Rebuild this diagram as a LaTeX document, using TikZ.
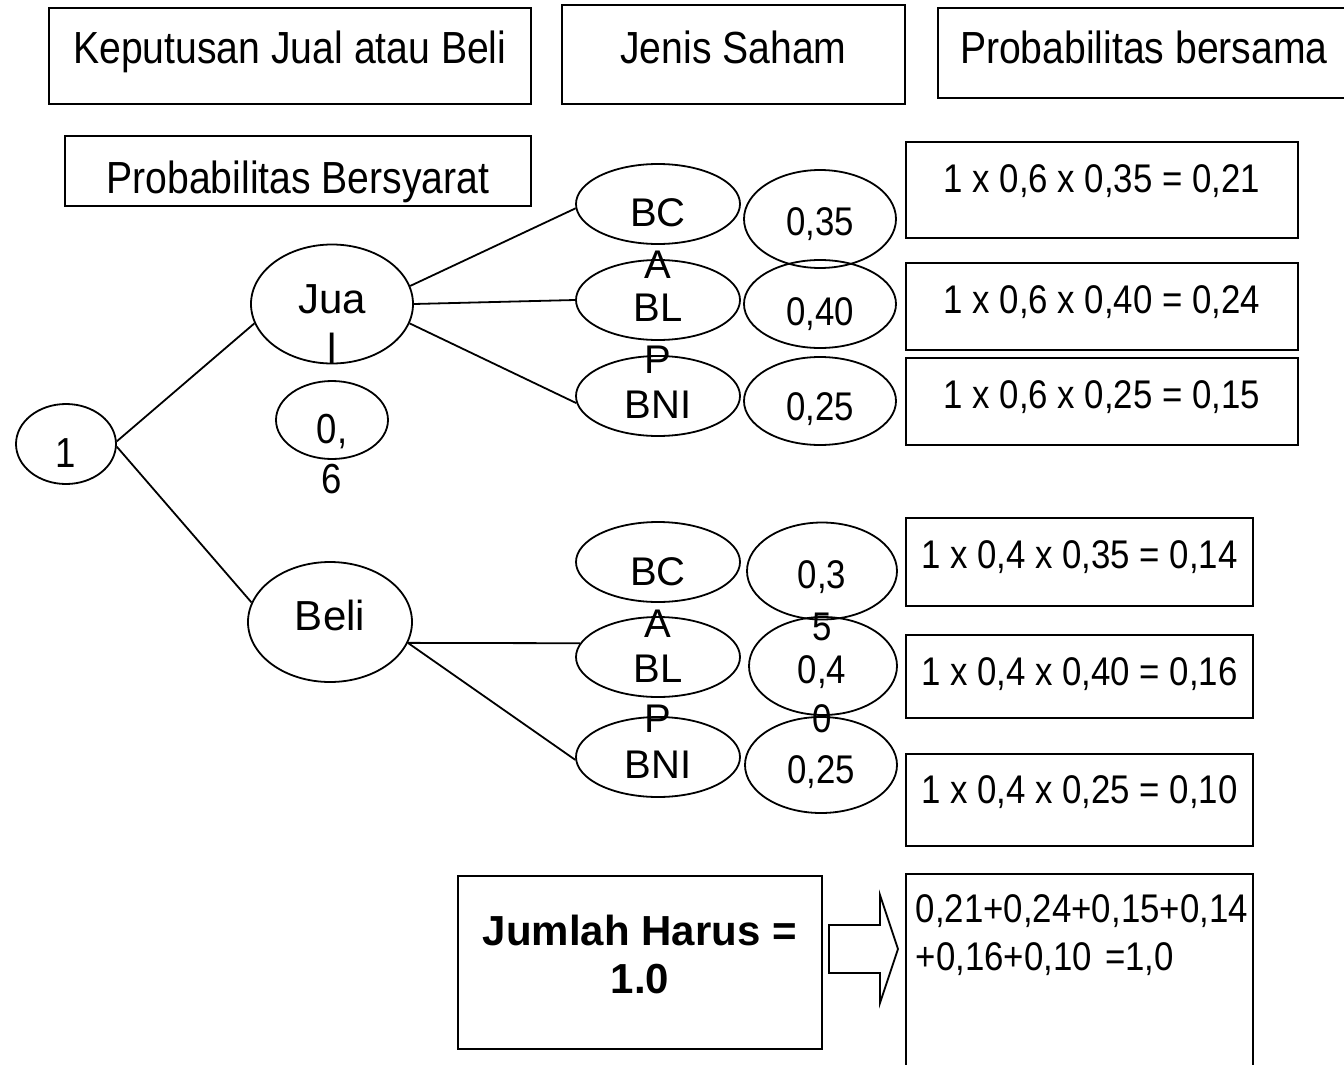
\documentclass[tikz,border=0pt]{standalone}
\usepackage{fontspec}
\setmainfont{Liberation Sans}[FakeStretch=0.87]
\newfontfamily\widefont{Liberation Sans}
\usetikzlibrary{shapes.geometric}

\begin{document}
\begin{tikzpicture}[x=1pt, y=-1pt, line width=1.8pt,
    box/.style={draw, rectangle, anchor=north west, inner sep=0pt, font=\fontsize{40}{48}\selectfont},
    head/.style={box, font=\fontsize{45}{51}\selectfont},
    oval/.style={draw, ellipse, inner sep=0pt, text depth=0pt, align=center},
    word/.style={anchor=base, align=center, inner sep=0pt},
    stock/.style={oval, minimum width=164pt, minimum height=80pt, font=\widefont\fontsize{40}{53}\selectfont},
    prob/.style={oval, minimum width=152pt, minimum height=88pt, font=\fontsize{40}{52}\selectfont}]
    \path[use as bounding box, fill=white] (0,0) rectangle (1344,1065);

    \node [head, minimum width=482pt, text height=56pt, text depth=40pt] (keputusan) at (48,7) {Keputusan Jual atau Beli};
    \node [head, minimum width=343pt, text height=59pt, text depth=40pt] (jenis) at (561,4) {Jenis Saham};
    \node [head, minimum width=412pt, text height=56pt, text depth=34pt] (bersama) at (937,7) {Probabilitas bersama};
    \node [head, minimum width=466pt, text height=58pt, text depth=12pt] (bersyarat) at (64,135) {Probabilitas Bersyarat};

    \node [oval, minimum width=100pt, minimum height=80pt, text height=46pt, font=\fontsize{42}{50}\selectfont] (one) at (66,444) {1};
    \node [oval, minimum width=162pt, minimum height=119pt] (jual) at (332,304) {};
    \node [word, font=\widefont\fontsize{42}{50}\selectfont] (jualtext) at (332,363) {Jua\\l};
    \node [oval, minimum width=112pt, minimum height=78pt] (pjual) at (332,420) {};
    \node [word, font=\fontsize{42}{50}\selectfont] (pjualtext) at (332,493) {0,\\6};
    \node [oval, minimum width=164pt, minimum height=120pt, text height=16pt, font=\widefont\fontsize{42}{50}\selectfont] (beli) at (330,622) {Beli};

    \node [stock] (bc1) at (658,204) {};
    \node [stock] (bl1) at (658,300) {};
    \node [stock, text height=44pt] (bni1) at (658,396) {BNI};
    \node [word, font=\widefont\fontsize{40}{52}\selectfont] (bc1text) at (658,278) {BC\\A};
    \node [word, font=\widefont\fontsize{40}{52}\selectfont] (bl1text) at (658,373) {BL\\P};
    \node [prob, minimum height=98pt, text height=32pt] (p35a) at (820,219) {0,35};
    \node [prob, text height=42pt] (p40a) at (820,304) {0,40};
    \node [prob, text height=38pt] (p25a) at (820,401) {0,25};

    \node [stock] (bc2) at (658,562) {};
    \node [stock] (bl2) at (658,657) {};
    \node [stock, text height=42pt] (bni2) at (658,757) {BNI};
    \node [word, font=\widefont\fontsize{40}{52}\selectfont] (bc2text) at (658,637) {BC\\A};
    \node [word, font=\widefont\fontsize{40}{50}\selectfont] (bl2text) at (658,732) {BL\\P};
    \node [prob, minimum width=150pt, minimum height=97pt] (p35b) at (822,571) {};
    \node [prob, minimum width=148pt, minimum height=98pt] (p40b) at (823,666) {};
    \node [prob, minimum height=96pt, text height=36pt] (p25b) at (821,765) {0,25};
    \node [word, font=\fontsize{40}{52}\selectfont] (p35btext) at (822,640) {0,3\\5};
    \node [word, font=\fontsize{40}{49}\selectfont] (p40btext) at (822,732) {0,4\\0};

    \node [box, minimum width=392pt, text height=51pt, text depth=45pt] (r1) at (905,141) {1 x 0,6 x 0,35 = 0,21};
    \node [box, minimum width=392pt, text height=51pt, text depth=36pt] (r2) at (905,262) {1 x 0,6 x 0,40 = 0,24};
    \node [box, minimum width=392pt, text height=51pt, text depth=36pt] (r3) at (905,357) {1 x 0,6 x 0,25 = 0,15};
    \node [box, minimum width=347pt, text height=51pt, text depth=37pt] (r4) at (905,517) {1 x 0,4 x 0,35 = 0,14};
    \node [box, minimum width=347pt, text height=51pt, text depth=32pt] (r5) at (905,634) {1 x 0,4 x 0,40 = 0,16};
    \node [box, minimum width=347pt, text height=50pt, text depth=42pt] (r6) at (905,753) {1 x 0,4 x 0,25 = 0,10};

    \node [box, minimum width=364pt, text height=118pt, text depth=55pt, align=center, font=\widefont\bfseries\fontsize{42}{48}\selectfont] (jumlah) at (457,875) {Jumlah Harus =\\1.0};
    \node [box, text width=327pt, inner xsep=10pt, text height=49pt, text depth=201pt, align=left] (total) at (905,873) {0,21+0,24+0,15+0,14\\+0,16+0,10 =1,0};

    \draw (829,925) -- (880,925) -- (880,895) -- (898,949) -- (880,1003) -- (880,973) -- (829,973) -- cycle;

    \draw (one.3) -- (jual.194);
    \draw (one.-3) -- (beli.166);
    \draw (jual.13) -- (bc1.183);
    \draw (jual.east) -- (bl1.west);
    \draw (jual.-14) -- (bni1.185);
    \draw (beli.-15) -- (bl2.170);
    \draw (beli.-15) -- (bni2.182);
\end{tikzpicture}
\end{document}
